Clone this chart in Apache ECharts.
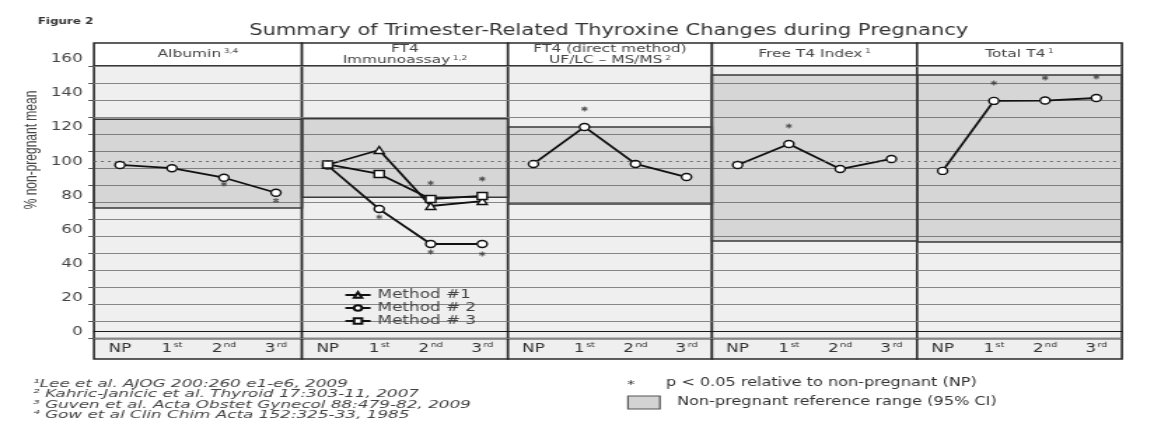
<!DOCTYPE html>
<html><head><meta charset="utf-8">
<script src="https://cdn.jsdelivr.net/npm/echarts@6/dist/echarts.min.js"></script>
<style>
html,body{margin:0;padding:0;background:#fff;overflow:hidden;}
#wrap{width:1161px;height:427px;overflow:hidden;position:relative;}
#chart{width:829px;height:427px;transform:scaleX(1.40048);transform-origin:0 0;}
</style></head><body><div id="wrap"><div id="chart"></div></div>
<script>
// ---------- data ----------
const categories = ['NP', '1st', '2nd', '3rd'];
const yTickLabels = [0, 20, 40, 60, 80, 100, 120, 140, 160];
const referenceLine = 100;

const albumin = [97.9, 96, 90.4, 81.6];
const albuminStars = [null, null, 86.7, 77];
const albuminRange = [72.6, 124.8];

const ft4Method1 = [98, 106.7, 73.8, 76.7];
const ft4Method2 = [97.6, 72, 51.5, 51.5];
const ft4Method3 = [98.2, 92.6, 77.9, 79.7];
const ft4StarsUpper = [null, null, 87.3, 89.7];
const ft4StarsLower = [null, 67.3, 46.8, 45.6];
const ft4Range = [79, 125];

const ft4Direct = [98.5, 120.2, 98.5, 90.8];
const ft4DirectStars = [null, 130.8, null, null];
const ft4DirectRange = [75, 120.2];

const freeT4Index = [97.9, 110.2, 95.5, 101.4];
const freeT4IndexStars = [null, 120.8, null, null];
const freeT4IndexRange = [53.3, 150.7];

const totalT4 = [94.4, 135.5, 135.7, 137.2];
const totalT4Stars = [null, 146, 149, 149.5];
const totalT4Range = [52.7, 150.7];

const methodNames = ['Method #1', 'Method # 2', 'Method # 3'];
const panelHeaders = [
  [['Albumin', '3,4']],
  [['FT4', ''], ['Immunoassay', '1,2']],
  [['FT4 (direct method)', ''], ['UF/LC \u2013 MS/MS', '2']],
  [['Free T4 Index', '1']],
  [['Total T4', '1']]
];
const footnotes = [
  '\u00b9Lee et al. AJOG 200:260 e1-e6, 2009',
  '\u00b2 Kahric-Janicic et al. Thyroid 17:303-11, 2007',
  '\u00b3 Guven et al. Acta Obstet Gynecol 88:479-82, 2009',
  '\u2074 Gow et al Clin Chim Acta 152:325-33, 1985'
];
const titleText = 'Summary of Trimester-Related Thyroxine Changes during Pregnancy';

// ---------- layout ----------
const E = [67.1, 215.6, 362.7, 508.4, 654.8, 801.1];
const PLOT_TOP = 66, PLOT_H = 272.5;
const FONT = 'DejaVu Sans';
const INK = '#2a2a2a';

const grids = [], xAxes = [], yAxes = [], series = [];
for (let i = 0; i < 5; i++) {
  grids.push({left: E[i], width: E[i + 1] - E[i], top: PLOT_TOP, height: PLOT_H, show: true,
    backgroundColor: '#efefef', borderColor: INK, borderWidth: 1.6});
  xAxes.push({type: 'category', gridIndex: i, data: categories, boundaryGap: true,
    axisLine: {lineStyle: {color: '#1a1a1a', width: 1.2}},
    axisTick: {alignWithLabel: true, inside: true, length: 4, interval: 0, lineStyle: {color: '#333'}},
    axisLabel: {interval: 0, margin: 3, formatter: v => /^\d/.test(v) ? '{n|' + v[0] + '}{s|' + v.slice(1) + '}' : '{n|' + v + '}',
      rich: {n: {fontSize: 12, color: '#333', fontFamily: FONT, lineHeight: 14},
             s: {fontSize: 7, color: '#333', fontFamily: FONT, lineHeight: 8, verticalAlign: 'top', padding: [0, 0, 0, 1]}}},
    splitLine: {show: false}});
  yAxes.push({type: 'value', gridIndex: i, min: -4, max: 156, interval: 10,
    axisLabel: {show: false}, axisLine: {show: false},
    axisTick: {show: i === 0, length: 4, lineStyle: {color: '#555'}},
    splitLine: {show: true, lineStyle: {color: '#868686', width: 1}}});
}
// label-only axis
grids.push({left: E[0], width: 10, top: PLOT_TOP - 6.8, height: PLOT_H, show: false});
xAxes.push({type: 'value', gridIndex: 5, show: false});
yAxes.push({type: 'value', gridIndex: 5, min: yTickLabels[0], max: yTickLabels[yTickLabels.length - 1], interval: 20,
  axisLine: {show: false}, axisTick: {show: false}, splitLine: {show: false},
  axisLabel: {margin: 8, fontSize: 12, color: '#444', fontFamily: FONT}});

function lineSeries(name, data, i, symbol, range) {
  const s = {type: 'line', name, data, xAxisIndex: i, yAxisIndex: i, symbol, symbolSize: 7,
    lineStyle: {color: '#111', width: 1.8}, itemStyle: {color: '#fff', borderColor: '#111', borderWidth: 1.4}, z: 4};
  if (range) {
    s.markArea = {silent: true, itemStyle: {color: 'rgba(90,90,90,0.16)', borderColor: '#3a3a3a', borderWidth: 1.5},
      data: [[{yAxis: range[0]}, {yAxis: range[1]}]]};
    s.markLine = {silent: true, symbol: ['none', 'none'], label: {show: false},
      lineStyle: {type: [2, 3], color: '#666', width: 1.2}, data: [{yAxis: referenceLine}]};
  }
  return s;
}
function starSeries(vals, i) {
  const d = [];
  vals.forEach((v, k) => { if (v != null) d.push([k, v]); });
  return {type: 'scatter', data: d, xAxisIndex: i, yAxisIndex: i, silent: true, z: 5,
    symbol: 'path://M0,-5L0,5M-4.33,-2.5L4.33,2.5M-4.33,2.5L4.33,-2.5', symbolSize: [4, 5],
    itemStyle: {color: '#333', borderColor: '#333', borderWidth: 1.1}};
}

series.push(lineSeries('Albumin', albumin, 0, 'circle', albuminRange), starSeries(albuminStars, 0));
series.push(lineSeries(methodNames[0], ft4Method1, 1, 'triangle', ft4Range),
  lineSeries(methodNames[1], ft4Method2, 1, 'circle'),
  lineSeries(methodNames[2], ft4Method3, 1, 'rect'),
  starSeries(ft4StarsUpper, 1), starSeries(ft4StarsLower, 1));
series.push(lineSeries('FT4 direct', ft4Direct, 2, 'circle', ft4DirectRange), starSeries(ft4DirectStars, 2));
series.push(lineSeries('Free T4 Index', freeT4Index, 3, 'circle', freeT4IndexRange), starSeries(freeT4IndexStars, 3));
series.push(lineSeries('Total T4', totalT4, 4, 'circle', totalT4Range), starSeries(totalT4Stars, 4));

// ---------- decorations ----------
const graphics = [];
graphics.push({type: 'text', x: 27, y: 22, style: {text: 'Figure 2', font: 'bold 8.5px "DejaVu Sans"', fill: '#333', align: 'left', verticalAlign: 'middle'}});
graphics.push({type: 'text', x: (E[0] + E[5]) / 2 + 0.5, y: 31, style: {text: titleText, font: '15px "DejaVu Sans"', fill: '#333', align: 'center', verticalAlign: 'middle'}});
graphics.push({type: 'text', x: 23, y: 150, rotation: Math.PI / 2, style: {text: '% non-pregnant mean', font: '12px "Liberation Sans"', fill: '#444', align: 'center', verticalAlign: 'middle'}});
for (let i = 0; i < 5; i++) {
  graphics.push({type: 'rect', z: -1, shape: {x: E[i], y: 43, width: E[i + 1] - E[i], height: 23}, style: {fill: '#fff', stroke: INK, lineWidth: 1.6}});
  graphics.push({type: 'rect', z: -1, shape: {x: E[i], y: PLOT_TOP + PLOT_H, width: E[i + 1] - E[i], height: 20.5}, style: {fill: '#efefef', stroke: INK, lineWidth: 1.6}});
  const lines = panelHeaders[i];
  const two = lines.length > 1;
  const txt = lines.map(([t, s]) => '{t|' + t + '}' + (s ? '{g| }{s|' + s + '}' : '')).join('\n');
  graphics.push({type: 'text', x: (E[i] + E[i + 1]) / 2, y: 54.5, style: {text: txt, align: 'center', verticalAlign: 'middle',
    rich: {t: {fontSize: 11, fontFamily: FONT, fill: '#444', lineHeight: two ? 10.5 : 13},
           g: {fontSize: 6, fontFamily: FONT, lineHeight: two ? 10.5 : 13},
           s: {fontSize: 6.5, fontFamily: FONT, fill: '#444', lineHeight: 8, verticalAlign: 'top'}}}});
}
footnotes.forEach((f, k) => graphics.push({type: 'text', x: 23.5, y: 384.5 + k * 10.2, scaleY: 0.84,
  style: {text: f, font: 'italic 12px "DejaVu Sans"', fill: '#444', align: 'left', verticalAlign: 'middle'}}));
graphics.push({type: 'text', x: 450.6, y: 385, style: {text: '*', font: '11px "DejaVu Sans"', fill: '#333', align: 'center', verticalAlign: 'middle'}});
graphics.push({type: 'text', x: 475.5, y: 383, style: {text: 'p < 0.05 relative to non-pregnant (NP)', font: '11.5px "DejaVu Sans"', fill: '#333', align: 'left', verticalAlign: 'middle'}});
graphics.push({type: 'rect', shape: {x: 448.4, y: 396, width: 22.8, height: 13}, style: {fill: '#d3d3d3', stroke: '#555', lineWidth: 1.2}});
graphics.push({type: 'text', x: 483.4, y: 402.5, style: {text: 'Non-pregnant reference range (95% CI)', font: '11.5px "DejaVu Sans"', fill: '#333', align: 'left', verticalAlign: 'middle'}});

const chart = echarts.init(document.getElementById('chart'));
chart.setOption({
  animation: false,
  backgroundColor: '#fff',
  grid: grids, xAxis: xAxes, yAxis: yAxes, series,
  legend: {data: methodNames, orient: 'vertical', left: 240.6, top: 284, itemWidth: 18, itemHeight: 7, itemGap: 1,
    textStyle: {fontSize: 12, color: '#444', fontFamily: FONT}},
  graphic: graphics
});
</script></body></html>
